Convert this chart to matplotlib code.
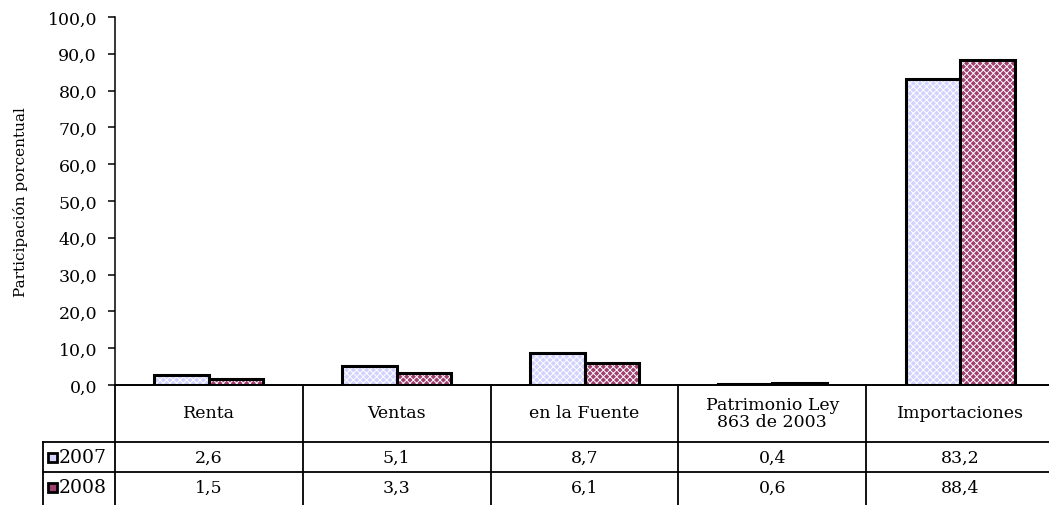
import matplotlib.pyplot as plt
from matplotlib.patches import Rectangle
from matplotlib.lines import Line2D
from matplotlib.transforms import blended_transform_factory

plt.rcParams["font.family"] = ["DejaVu Serif"]
plt.rcParams["hatch.linewidth"] = 0.7

# datos
categorias = ["Renta", "Ventas", "en la Fuente", "Patrimonio Ley\n863 de 2003", "Importaciones"]
anios = ["2007", "2008"]
v2007 = [2.6, 5.1, 8.7, 0.4, 83.2]
v2008 = [1.5, 3.3, 6.1, 0.6, 88.4]
yticks = [0, 10, 20, 30, 40, 50, 60, 70, 80, 90, 100]

W, H = 1049, 506
fig = plt.figure(figsize=(W / 100, H / 100), dpi=100)


def fx(p):
    return p / W


def fy(p):
    return 1 - p / H


ax = fig.add_axes([fx(115), fy(386), fx(1054) - fx(115), fy(18) - fy(386)])

base = ["#D2D2FF", "#A04070"]
ancho = 0.29
x = list(range(len(categorias)))
for serie, color, off in [(v2007, base[0], -ancho / 2), (v2008, base[1], ancho / 2)]:
    pos = [i + off for i in x]
    # relleno punteado
    ax.bar(pos, serie, ancho, color=color, hatch="xxxxx", edgecolor="white", linewidth=0)
    ax.bar(pos, serie, ancho, fill=False, edgecolor="black", linewidth=2.2)

ax.set_xlim(-0.5, len(categorias) - 0.5)
ax.set_ylim(0, 100)
ax.set_yticks(yticks)
ax.set_yticklabels([f"{t:.1f}".replace(".", ",") for t in yticks], fontsize=12.5)
ax.set_xticks([])
ax.tick_params(axis="y", length=5, width=1.1, pad=8)
for s in ["top", "right"]:
    ax.spines[s].set_visible(False)
ax.spines["left"].set_linewidth(1.1)
ax.spines["bottom"].set_linewidth(1.4)
ax.set_ylabel("Participación porcentual", fontsize=11, labelpad=14)

# tabla de datos
tr = blended_transform_factory(ax.transData, fig.transFigure)
lw = 1.3
for i in range(len(categorias) + 1):
    fig.add_artist(Line2D([i - 0.5, i - 0.5], [fy(386), fy(H + 2)], transform=tr, color="black", lw=lw))
for yy in [443, 473]:
    fig.add_artist(Line2D([fx(43), 1.0], [fy(yy), fy(yy)], transform=fig.transFigure, color="black", lw=lw))
fig.add_artist(Line2D([fx(43), fx(43)], [fy(443), fy(H + 2)], transform=fig.transFigure, color="black", lw=lw))

for i, c in enumerate(categorias):
    fig.text(i, fy(414), c, transform=tr, ha="center", va="center", fontsize=12.5, linespacing=0.95)
for fila, serie in zip([458, 488], [v2007, v2008]):
    for i, v in enumerate(serie):
        fig.text(i, fy(fila), f"{v:.1f}".replace(".", ","), transform=tr,
                 ha="center", va="center", fontsize=12.5)

for fila, anio, color in zip([458, 488], anios, base):
    fig.add_artist(Rectangle((fx(48), fy(fila + 4.5)), fx(9), fy(0) - fy(9),
                             transform=fig.transFigure, facecolor=color, edgecolor="black", lw=2))
    fig.text(fx(59), fy(fila), anio, ha="left", va="center", fontsize=13.5)

fig.savefig("out.png", dpi=100)
